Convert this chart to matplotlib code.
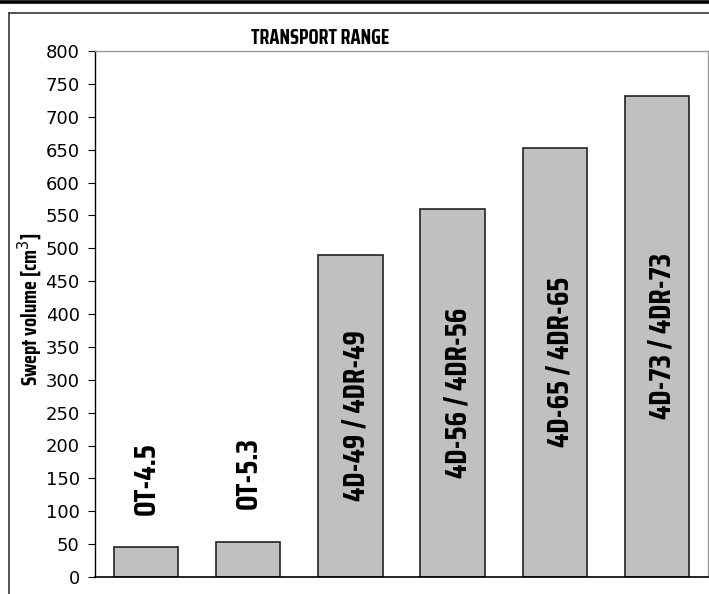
import numpy as np
import matplotlib.pyplot as plt
from matplotlib.lines import Line2D

# data
models = ["OT-4.5", "OT-5.3", "4D-49 / 4DR-49", "4D-56 / 4DR-56", "4D-65 / 4DR-65", "4D-73 / 4DR-73"]
volume = [45, 53, 490, 560, 653, 732]
yticks = list(range(0, 801, 50))

W, H = 709, 594
fig = plt.figure(figsize=(W / 100, H / 100), dpi=100)
narrow = ["Saira Condensed", "DejaVu Sans"]

# outer frame lines
fig.add_artist(Line2D([0, 1], [1 - 1.5 / H, 1 - 1.5 / H], color="black", lw=2.6, transform=fig.transFigure))
fig.add_artist(Line2D([8.5 / W, 1], [1 - 13 / H, 1 - 13 / H], color="#444444", lw=1.3, transform=fig.transFigure))
fig.add_artist(Line2D([8.5 / W, 8.5 / W], [0, 1 - 13 / H], color="#444444", lw=1.3, transform=fig.transFigure))

ax = fig.add_axes([95 / W, (H - 577) / H, (708 - 95) / W, (577 - 51) / H])
x = np.arange(len(models))
ax.bar(x, volume, width=0.63, color="#c0c0c0", edgecolor="#222222", linewidth=1.2)
ax.set_xlim(-0.5, len(models) - 0.5)
ax.set_ylim(0, 800)
ax.set_yticks(yticks)
ax.set_xticks([])
ax.tick_params(axis="y", direction="out", length=5, labelsize=13, pad=6)
for s in ["top", "right"]:
    ax.spines[s].set_color("#999999")
    ax.spines[s].set_linewidth(1.0)
ax.spines["left"].set_linewidth(1.0)
ax.spines["bottom"].set_linewidth(1.2)

for xi, v, name in zip(x, volume, models):
    if v < 200:
        ax.text(xi, v + 50, name, rotation=90, ha="center", va="bottom",
                family=narrow, fontweight="bold", fontsize=22)
    else:
        ax.text(xi + 0.05, v / 2, name, rotation=90, ha="center", va="center",
                family=narrow, fontweight="bold", fontsize=22)

fig.text(320 / W, 1 - 38 / H, "TRANSPORT RANGE", ha="center", va="center",
         family=narrow, fontweight="bold", fontsize=14.5)
fig.text(30 / W, 1 - 309 / H, "Swept volume [cm$^3$]", rotation=90, ha="center", va="center",
         family=narrow, fontweight="bold", fontsize=15)

fig.savefig("out.png", dpi=100)
